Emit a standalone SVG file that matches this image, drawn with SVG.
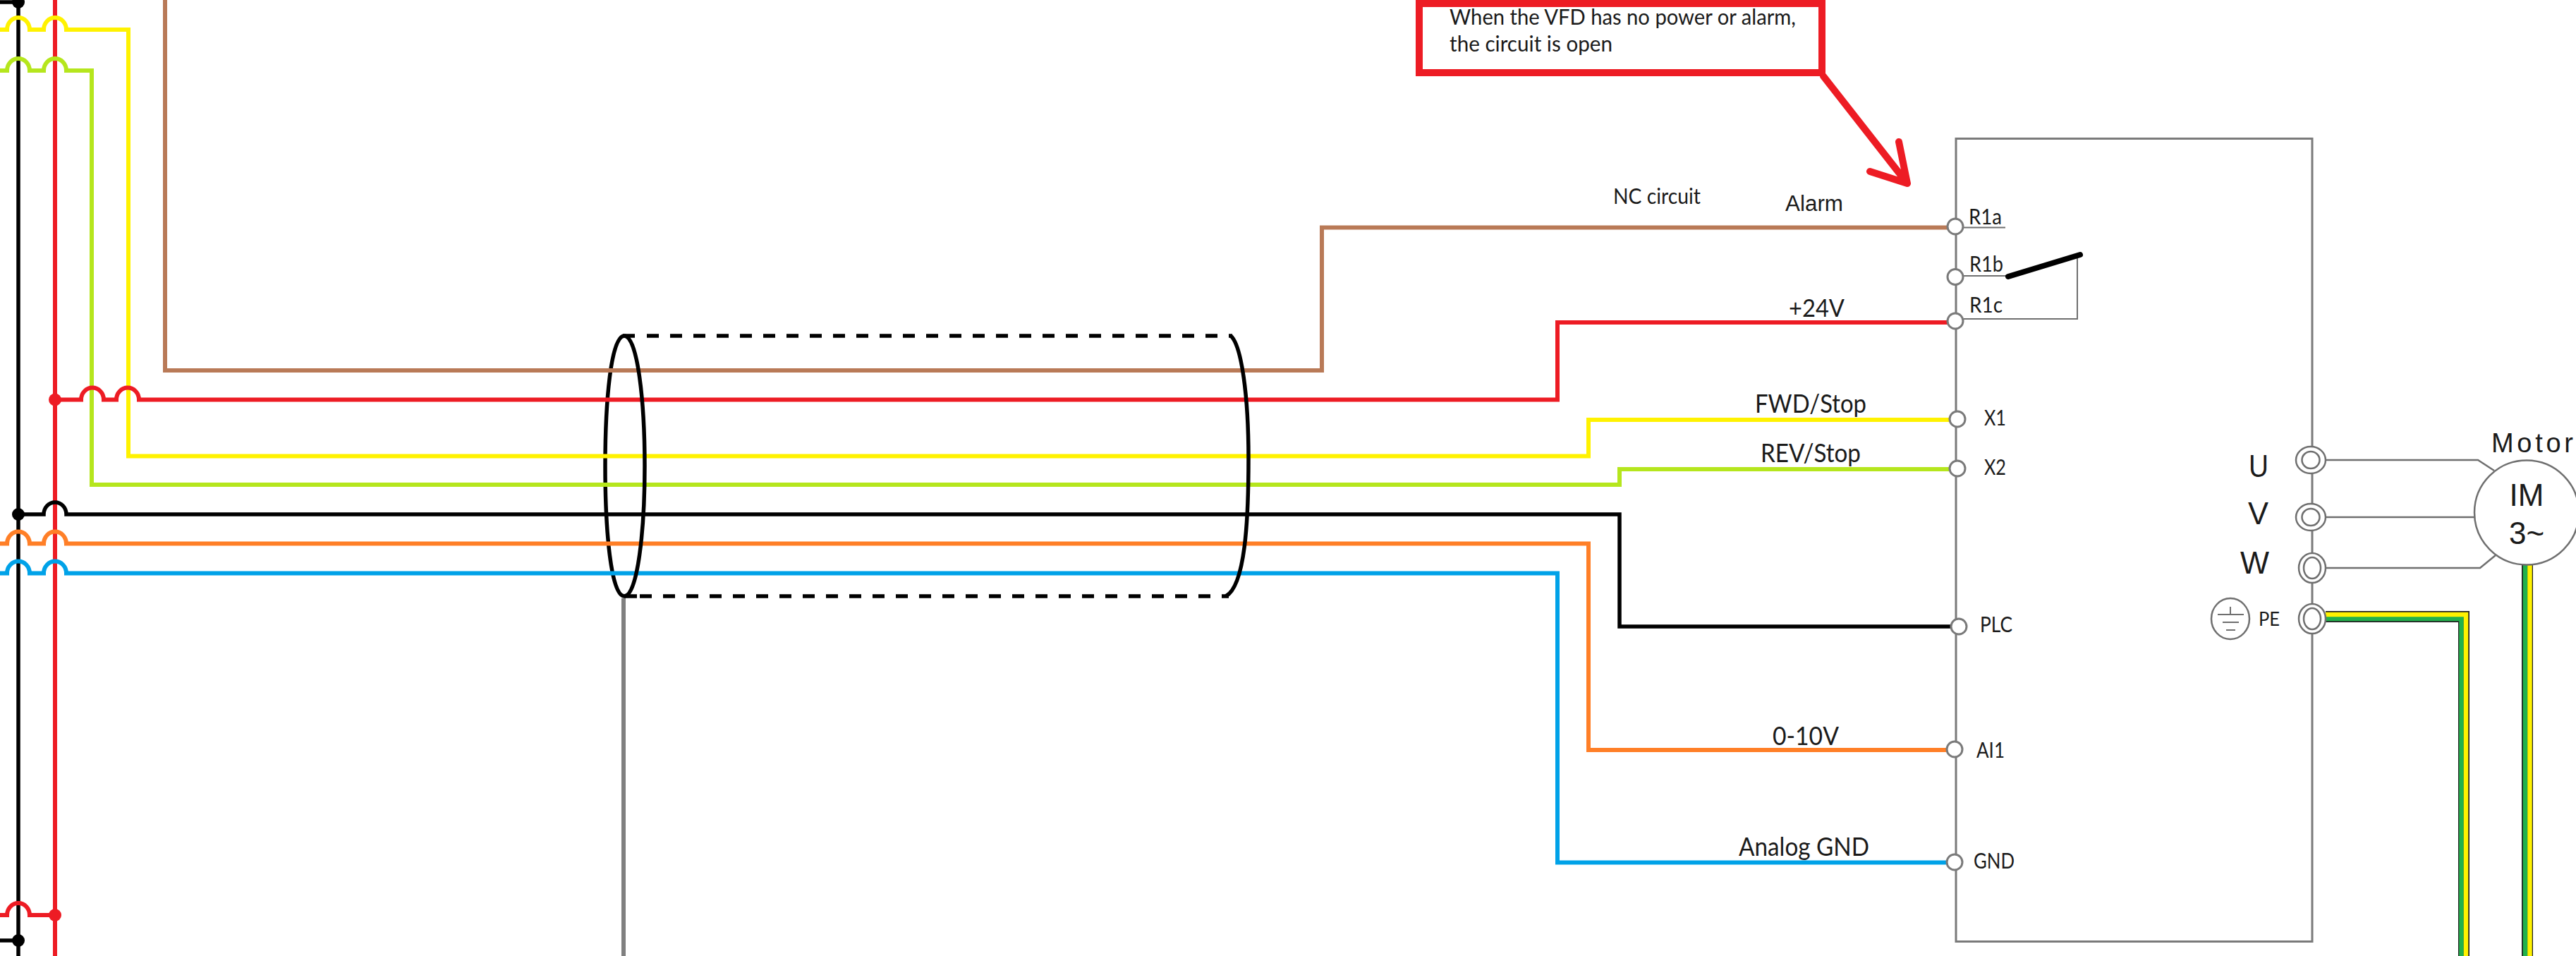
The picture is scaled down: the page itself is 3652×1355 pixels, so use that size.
<svg xmlns="http://www.w3.org/2000/svg" width="3652" height="1355" viewBox="0 0 3652 1355">
<style>
.w{fill:none;stroke-linejoin:miter}
.red{stroke:#ED1C24;stroke-width:6}
.yel{stroke:#FFF200;stroke-width:6}
.grn{stroke:#B5E61D;stroke-width:6}
.brn{stroke:#B97A57;stroke-width:6}
.org{stroke:#FF7F27;stroke-width:6}
.blu{stroke:#00A2E8;stroke-width:6}
.blk{stroke:#000;stroke-width:5.5}
.sh{fill:none;stroke:#000;stroke-width:5.5}
.gr{fill:none;stroke:#7a7a7a;stroke-width:3}
.g2{fill:none;stroke:#6f6f6f;stroke-width:2}
.term{fill:#fff;stroke:#7a7a7a;stroke-width:3}
.ring{fill:#fff;stroke:#6f6f6f;stroke-width:2.5}
.t{font-family:"Lato","Noto Sans",sans-serif;fill:#1a1a1a}
.a{font-family:"Liberation Sans",Arial,sans-serif;fill:#1a1a1a}
</style>
<rect width="3652" height="1355" fill="#fff"/>
<g id="rails">
<path class="w blk" d="M26 0V1355"/>
<path class="w red" d="M78 0V1355"/>
<path class="w blk" d="M0 3H26M0 1333H26"/>
<circle cx="26" cy="3" r="9"/>
<circle cx="26" cy="1333" r="9"/>
<circle cx="26" cy="729" r="9"/>
</g>
<path id="shield-left" class="sh" d="M885 476C866 476 858 570 858 660.5C858 751 866 845 885 845"/>
<g id="connectors">
<path class="w brn" d="M234 0V525H1874V322.500H2773"/>
<path class="w yel" d="M0 42H10a16 17 0 0 1 32 0H62a16 17 0 0 1 32 0H182V646.500H2252V595H2773"/>
<path class="w grn" d="M0 100H10a16 17 0 0 1 32 0H62a16 17 0 0 1 32 0H130V687H2296V665H2773"/>
<path class="w red" d="M78 566.500H115a16 17 0 0 1 32 0H165a16 17 0 0 1 32 0H2208V457H2773"/>
<path class="w blk" d="M26 729H62a16 17 0 0 1 32 0H2296V888H2777"/>
<path class="w org" d="M0 770.500H10a16 17 0 0 1 32 0H62a16 17 0 0 1 32 0H2252V1063H2771"/>
<path class="w blu" d="M0 812.500H10a16 17 0 0 1 32 0H62a16 17 0 0 1 32 0H2208V1222.500H2771"/>
<path class="w red" d="M0 1297H10a16 17 0 0 1 32 0H78"/>
<circle cx="78" cy="566.500" r="9" fill="#ED1C24"/>
<circle cx="78" cy="1297" r="9" fill="#ED1C24"/>
<path d="M3297 874H3493V1355" fill="none" stroke="#222" stroke-width="16"/>
<path d="M3297 877H3489.500V1355" fill="none" stroke="#22B14C" stroke-width="6.500"/>
<path d="M3297 871H3496V1355" fill="none" stroke="#FFF200" stroke-width="6.500"/>
<path d="M3583 800V1355" fill="none" stroke="#222" stroke-width="16"/>
<path d="M3580 800V1355" fill="none" stroke="#22B14C" stroke-width="6.500"/>
<path d="M3586.500 800V1355" fill="none" stroke="#FFF200" stroke-width="6.500"/>
<path class="g2" style="stroke-width:2.5" d="M3297 652H3513L3536 667M3297 733H3508M3297 805H3516L3538 787"/>
</g>
<g id="shield">
<path class="sh" d="M885 476C904 476 914 570 914 660.5C914 751 904 845 885 845"/>
<path class="sh" d="M883 476H900M885 845H903"/>
<path class="sh" stroke-dasharray="17 16" d="M917 476H1747"/>
<path class="sh" stroke-dasharray="17 16" d="M907 845H1742"/>
<path class="sh" d="M1745 476C1760 490 1770 560 1770 650C1770 740 1765 830 1738 845"/>
<path d="M884 848V1355" fill="none" stroke="#808080" stroke-width="6"/>
</g>
<g id="note">
<rect x="2012" y="5" width="571" height="98" fill="#fff" stroke="#ED1C24" stroke-width="10"/>
<text class="t" x="2055" y="35" style="font-size:30px" textLength="491" lengthAdjust="spacingAndGlyphs">When the VFD has no power or alarm,</text>
<text class="t" x="2055" y="73" style="font-size:30px" textLength="231" lengthAdjust="spacingAndGlyphs">the circuit is open</text>
<path d="M2585 108L2704 260M2692 201L2704 260L2651 243" fill="none" stroke="#ED1C24" stroke-width="10" stroke-linecap="round" stroke-linejoin="round"/>
</g>
<g id="vfd">
<rect x="2773" y="196.500" width="505" height="1138" class="gr"/>
<path class="g2" d="M2784 322.500H2843M2784 391H2845M2784 452H2945V361"/>
<path d="M2847 392L2949 361" stroke="#000" stroke-width="8" stroke-linecap="round"/>
</g>
<g id="terminals">
<circle class="term" cx="2772" cy="321" r="11"/>
<circle class="term" cx="2772" cy="392.500" r="11"/>
<circle class="term" cx="2772" cy="455" r="11"/>
<circle class="term" cx="2775" cy="594" r="11"/>
<circle class="term" cx="2775" cy="664" r="11"/>
<circle class="term" cx="2777" cy="888" r="11"/>
<circle class="term" cx="2771" cy="1062" r="11"/>
<circle class="term" cx="2771" cy="1222" r="11"/>
</g>
<g id="power-terminals">
<ellipse class="ring" cx="3276" cy="652" rx="21" ry="19"/><ellipse class="ring" cx="3276" cy="652" rx="12.500" ry="12"/>
<ellipse class="ring" cx="3276" cy="733" rx="21" ry="19"/><ellipse class="ring" cx="3276" cy="733" rx="12.500" ry="12"/>
<ellipse class="ring" cx="3278" cy="805" rx="19" ry="21"/><ellipse class="ring" cx="3278" cy="805" rx="12" ry="15"/>
<ellipse class="ring" cx="3278" cy="877" rx="19" ry="21"/><ellipse class="ring" cx="3278" cy="877" rx="12" ry="15"/>
</g>
<g id="motor">
<circle cx="3582" cy="726.500" r="74" fill="#fff" stroke="#6f6f6f" stroke-width="2.500"/>
<text class="a" x="3532" y="641" style="font-size:38px" textLength="116" lengthAdjust="spacing">Motor</text>
<text class="a" x="3582" y="717" style="font-size:44px" text-anchor="middle">IM</text>
<text class="a" x="3582" y="771" style="font-size:44px" text-anchor="middle">3~</text>
</g>
<g id="ground">
<ellipse cx="3162" cy="877" rx="27" ry="29" fill="#fff" stroke="#6f6f6f" stroke-width="2.500"/>
<path class="g2" d="M3162 860V871M3144 871H3181M3151 882H3174M3156 893H3169"/>
</g>
<g id="labels">
<text class="t" x="2287" y="289" style="font-size:31px" textLength="124" lengthAdjust="spacingAndGlyphs">NC circuit</text>
<text class="a" x="2531" y="299" style="font-size:31px" textLength="82" lengthAdjust="spacingAndGlyphs">Alarm</text>
<text class="t" x="2536" y="449" style="font-size:35px" textLength="79" lengthAdjust="spacingAndGlyphs">+24V</text>
<text class="t" x="2488" y="585" style="font-size:36px" textLength="158" lengthAdjust="spacingAndGlyphs">FWD/Stop</text>
<text class="t" x="2496" y="655" style="font-size:36px" textLength="142" lengthAdjust="spacingAndGlyphs">REV/Stop</text>
<text class="t" x="2513" y="1056" style="font-size:36px" textLength="94" lengthAdjust="spacingAndGlyphs">0-10V</text>
<text class="t" x="2465" y="1213" style="font-size:36px" textLength="185" lengthAdjust="spacingAndGlyphs">Analog GND</text>
<text class="t" x="2791" y="318" style="font-size:30px" textLength="47" lengthAdjust="spacingAndGlyphs">R1a</text>
<text class="t" x="2792" y="385" style="font-size:30px" textLength="48" lengthAdjust="spacingAndGlyphs">R1b</text>
<text class="t" x="2792" y="443" style="font-size:30px" textLength="47" lengthAdjust="spacingAndGlyphs">R1c</text>
<text class="t" x="2813" y="603" style="font-size:30px" textLength="31" lengthAdjust="spacingAndGlyphs">X1</text>
<text class="t" x="2813" y="673" style="font-size:30px" textLength="31" lengthAdjust="spacingAndGlyphs">X2</text>
<text class="t" x="2807" y="896" style="font-size:30px" textLength="46" lengthAdjust="spacingAndGlyphs">PLC</text>
<text class="t" x="2802" y="1074" style="font-size:30px" textLength="40" lengthAdjust="spacingAndGlyphs">AI1</text>
<text class="t" x="2798" y="1231" style="font-size:30px" textLength="58" lengthAdjust="spacingAndGlyphs">GND</text>
<text class="a" x="3188" y="676" style="font-size:44px" textLength="28" lengthAdjust="spacingAndGlyphs">U</text>
<text class="a" x="3187" y="743" style="font-size:44px" textLength="29" lengthAdjust="spacingAndGlyphs">V</text>
<text class="a" x="3176" y="813" style="font-size:44px" textLength="41" lengthAdjust="spacingAndGlyphs">W</text>
<text class="t" x="3202" y="887" style="font-size:27px" textLength="30" lengthAdjust="spacingAndGlyphs">PE</text>
</g>
</svg>
